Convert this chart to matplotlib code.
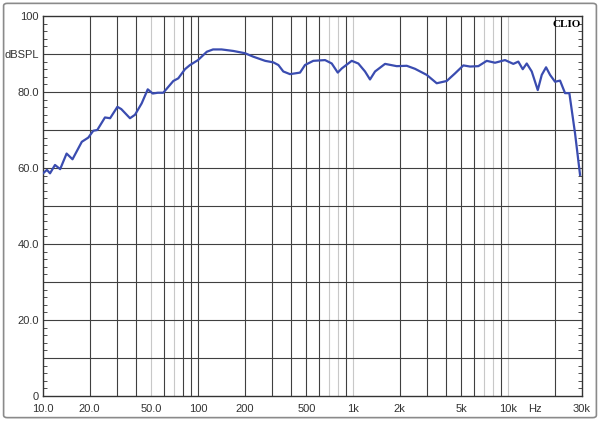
import matplotlib
matplotlib.use("Agg")
import matplotlib.pyplot as plt
from matplotlib.patches import FancyBboxPatch
from matplotlib.ticker import FixedLocator, NullFormatter

# frequency response
freq = [10, 10.6, 11.1, 11.95, 12.9, 14.2, 15.5, 17.8, 19.6, 21.1, 22.4, 25.1, 27.1,
        30.2, 32, 36.4, 39.2, 43.3, 47.4, 51, 55, 59.7, 69.3, 74.6, 82.4, 88.8, 100,
        114, 125, 142, 169, 201, 227, 271, 306, 330, 355, 392, 455, 490, 554, 660,
        729, 797, 846, 981, 1082, 1195, 1287, 1387, 1609, 1914, 2221, 2512, 2989,
        3467, 4022, 4551, 5148, 5686, 6431, 7290, 8244, 9563, 10820, 11650, 12440,
        13200, 14220, 15550, 16500, 17590, 18670, 20100, 21650, 23320, 24860,
        27060, 29140]
spl = [58.6, 59.5, 58.6, 60.8, 59.7, 63.8, 62.3, 66.9, 68.0, 69.8, 70.0, 73.3, 73.1,
       76.1, 75.5, 73.1, 74.0, 77.0, 80.7, 79.6, 79.8, 79.8, 82.9, 83.6, 86.0, 87.1, 88.4,
       90.6, 91.2, 91.2, 90.8, 90.2, 89.3, 88.2, 87.8, 87.1, 85.4, 84.7, 85.1, 87.1, 88.2,
       88.4, 87.5, 85.1, 86.2, 88.2, 87.5, 85.4, 83.3, 85.4, 87.4, 86.8, 86.9, 86.1, 84.5,
       82.3, 82.9, 84.9, 87.0, 86.7, 86.8, 88.2, 87.7, 88.4, 87.4, 88.0, 86.0,
       87.5, 85.4, 80.5, 84.5, 86.5, 84.5, 82.7, 83.0, 79.7, 79.7,
       69.1, 58.2]

x_labels = {10: "10.0", 20: "20.0", 50: "50.0", 100: "100", 200: "200", 500: "500",
            1000: "1k", 2000: "2k", 5000: "5k", 10000: "10k", 15000: "Hz", 30000: "30k"}
y_labels = {0: "0", 20: "20.0", 40: "40.0", 60: "60.0", 80: "80.0", 90: "dBSPL", 100: "100"}
light_lines = [50, 70, 700, 800, 1000, 7000, 8000, 10000]

plt.rcParams['font.family'] = ['Liberation Sans', 'DejaVu Sans']

fig = plt.figure(figsize=(6, 4.21), dpi=100)
fig.patches.append(FancyBboxPatch((0.006, 0.008), 0.988, 0.984,
                                  boxstyle="round,pad=0,rounding_size=0.006",
                                  transform=fig.transFigure, fill=False,
                                  edgecolor="#8a8a8a", linewidth=1.2))
ax = fig.add_axes([43 / 600, 25 / 421, 539 / 600, 380 / 421])

ax.set_xscale("log")
ax.set_xlim(10, 30000)
ax.set_ylim(0, 100)

# vertical grid, 1-9 per decade
for dec in [10, 100, 1000, 10000]:
    for m in range(1, 10):
        f = dec * m
        if f <= 10 or f >= 30000:
            continue
        col = "#c8c8c8" if f in light_lines else "#404040"
        ax.axvline(f, color=col, linewidth=0.8, zorder=1)
for y in range(10, 100, 10):
    ax.axhline(y, color="#404040", linewidth=0.8, zorder=1)

ax.plot(freq, spl, color="#3a4cb0", linewidth=1.6, zorder=3)

ax.xaxis.set_major_locator(FixedLocator(list(x_labels.keys())))
ax.set_xticklabels(list(x_labels.values()))
ax.xaxis.set_minor_formatter(NullFormatter())
ax.xaxis.set_minor_locator(FixedLocator([]))
ax.tick_params(axis="x", which="major", length=0, pad=6, labelsize=8, labelcolor="#333333")

ax.yaxis.set_major_locator(FixedLocator(list(y_labels.keys())))
ax.set_yticklabels(list(y_labels.values()))
ax.yaxis.set_minor_locator(FixedLocator([v for v in range(0, 101, 2) if v % 10]))
ax.tick_params(axis="y", which="major", length=0, pad=3, labelsize=8, labelcolor="#333333")
ax.tick_params(axis="y", which="minor", direction="in", length=3, width=0.6,
               color="#333333", left=True, right=True)

for s in ax.spines.values():
    s.set_color("#333333")
    s.set_linewidth(1.0)

ax.text(0.997, 0.99, "CLIO", transform=ax.transAxes, ha="right", va="top",
        fontsize=8, fontweight="bold", family=["Liberation Serif", "DejaVu Serif"])

fig.savefig("out.png", dpi=100)
